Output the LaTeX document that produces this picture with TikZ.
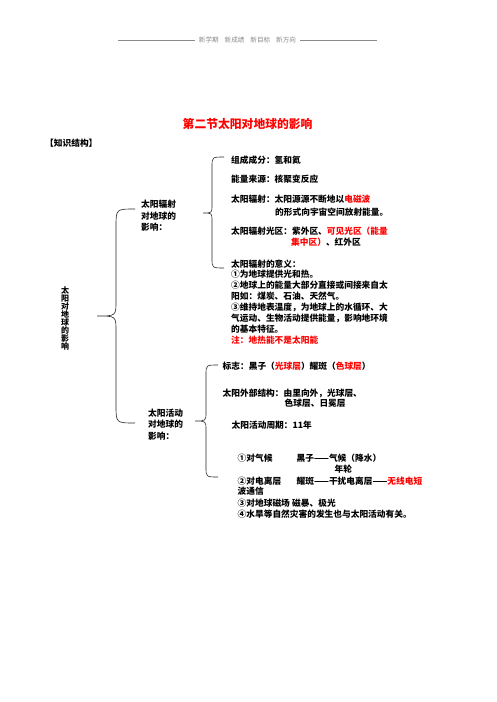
\documentclass[tikz,border=0pt]{standalone}
\usepackage{fontspec}
\newfontfamily\cjk{Noto Sans CJK SC}
\definecolor{hdrgray}{HTML}{8A8A8A}
\begin{document}
\begin{tikzpicture}[x=1pt,y=-1pt,
  txt/.style={anchor=west, inner sep=0pt, font=\cjk\bfseries\fontsize{8.7}{10}\selectfont},
  ttl/.style={anchor=west, inner sep=0pt, text=red, font=\cjk\bfseries\fontsize{11.8}{13}\selectfont},
  hdr/.style={inner sep=0pt, text=hdrgray, font=\cjk\fontsize{6.6}{8}\selectfont},
  hdrline/.style={draw=hdrgray, line width=0.5pt},
  bracestyle/.style={draw=black!85, line width=0.6pt}]
\useasboundingbox (0,0) rectangle (496,702);
\fill[white] (0,0) rectangle (496,702);
% header
\node[hdr] (head) at (247.5,40) {新学期\hspace{0.9em}新成绩\hspace{0.9em}新目标\hspace{0.9em}新方向};
\coordinate (hl1) at (118,40);
\coordinate (hr1) at (377,40);
\draw[hdrline] (hl1) -- ([xshift=-4pt]head.west);
\draw[hdrline] ([xshift=4pt]head.east) -- (hr1);
% title
\node[ttl] (title) at (182.5,124) {第二节太阳对地球的影响};
\node[txt] (kw) at (45,143) {【知识结构】};
% vertical label
\node[inner sep=0pt, align=center, font=\cjk\bfseries\fontsize{8}{8.1}\selectfont] (root) at (65,318.5)
  {太\\阳\\对\\地\\球\\的\\影\\响};
% big brace
\coordinate (b1t) at (135,209);
\coordinate (b1m) at (97,316);
\coordinate (b1b) at (135,423);
\draw[bracestyle] (b1t) .. controls (116,209) .. (116,227) -- (116,301)
  .. controls (116,316) .. (b1m) .. controls (116,316) .. (116,331) -- (116,405)
  .. controls (116,423) .. (b1b);
% radiation label
\node[txt] (rad1) at (141,204) {太阳辐射};
\node[txt] (rad2) at (141,216) {对地球的};
\node[txt] (rad3) at (141,227) {影响：};
% brace 2
\coordinate (b2t) at (224,157);
\coordinate (b2m) at (203,213);
\coordinate (b2b) at (224,268);
\draw[bracestyle] (b2t) .. controls (212,157) .. (212,167) -- (212,205)
  .. controls (212,213) .. (b2m) .. controls (212,213) .. (212,221) -- (212,258)
  .. controls (212,268) .. (b2b);
% radiation items
\node[txt] (r1) at (231,160) {组成成分：氢和氦};
\node[txt] (r2) at (231,179) {能量来源：核聚变反应};
\node[txt] (r3) at (231,199) {太阳辐射：太阳源源不断地以\textcolor{red}{电磁波}};
\node[txt] (r3b) at (275,212) {的形式向宇宙空间放射能量。};
\node[txt] (r4) at (231,231) {太阳辐射光区：紫外区、\textcolor{red}{可见光区（能量}};
\node[txt] (r4b) at (291,242) {\textcolor{red}{集中区）}、红外区};
\node[txt] (s0) at (231,264) {太阳辐射的意义：};
\node[txt] (s1) at (231,274.5) {①为地球提供光和热。};
\node[txt] (s2) at (231,285.5) {②地球上的能量大部分直接或间接来自太};
\node[txt] (s2b) at (231,296.5) {阳如：煤炭、石油、天然气。};
\node[txt] (s3) at (231,307.5) {③维持地表温度，为地球上的水循环、大};
\node[txt] (s3b) at (231,318.5) {气运动、生物活动提供能量，影响地环境};
\node[txt] (s3c) at (231,329.5) {的基本特征。};
\node[txt] (s4) at (231,340.5) {\textcolor{red}{注：地热能不是太阳能}};
% activity label
\node[txt] (act1) at (148,413) {太阳活动};
\node[txt] (act2) at (148,424.5) {对地球的};
\node[txt] (act3) at (148,436) {影响：};
% brace 3
\coordinate (b3t) at (218,365);
\coordinate (b3m) at (195,421);
\coordinate (b3b) at (218,477);
\draw[bracestyle] (b3t) .. controls (206,365) .. (206,375) -- (206,412)
  .. controls (206,421) .. (b3m) .. controls (206,421) .. (206,430) -- (206,467)
  .. controls (206,477) .. (b3b);
% activity items
\node[txt] (a1) at (222.5,366) {标志：黑子（\textcolor{red}{光球层}）耀斑（\textcolor{red}{色球层}）};
\node[txt] (a2) at (222.5,393) {太阳外部结构：由里向外，光球层、};
\node[txt] (a2b) at (284.5,403.5) {色球层、日冕层};
\node[txt] (a3) at (231.5,425) {太阳活动周期：11年};
\node[txt] (e1) at (237.5,458) {①对气候};
\node[txt] (e1b) at (296.5,458) {黑子——气候（降水）};
\node[txt] (e1c) at (334.5,469) {年轮};
\node[txt] (e2) at (237.5,481) {②对电离层};
\node[txt] (e2b) at (296.5,481) {耀斑——干扰电离层——\textcolor{red}{无线电短}};
\node[txt] (e2c) at (237.5,491.5) {波通信};
\node[txt] (e3) at (237.5,503) {③对地球磁场};
\node[txt] (e3b) at (292,503) {磁暴、极光};
\node[txt] (e4) at (237.5,514) {④水旱等自然灾害的发生也与太阳活动有关。};
\end{tikzpicture}
\end{document}
